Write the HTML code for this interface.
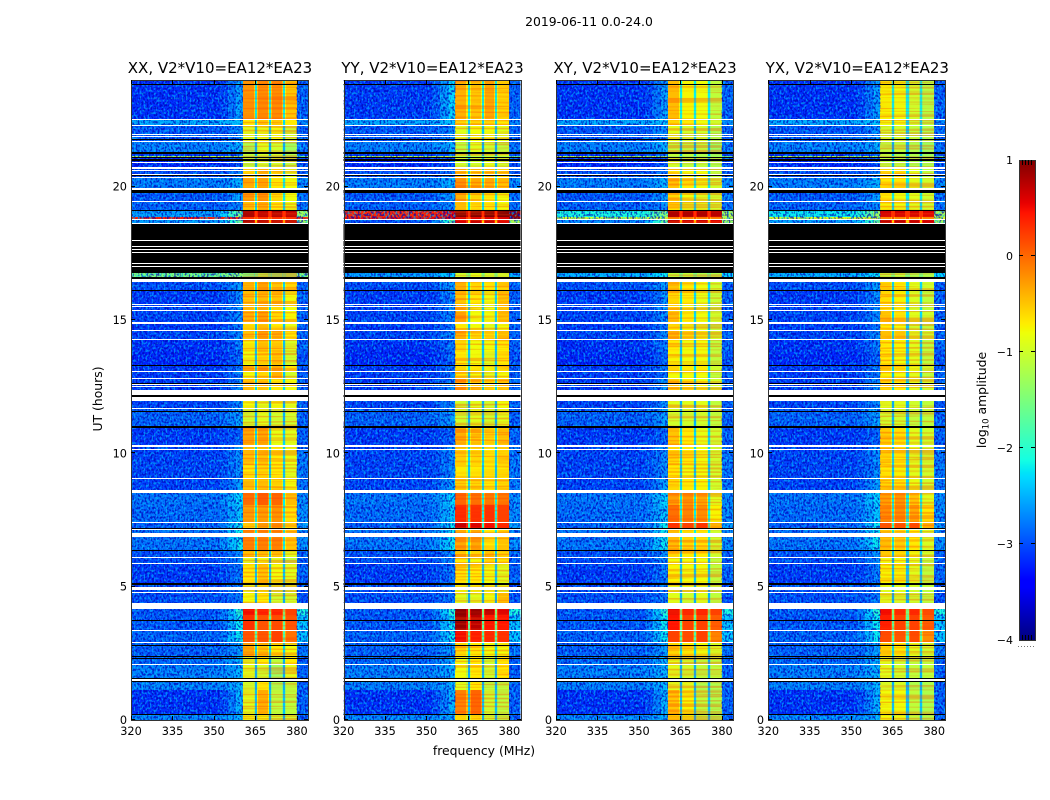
<!DOCTYPE html>
<html lang="en">
<head>
<meta charset="utf-8">
<title>2019-06-11 0.0-24.0</title>
<style>
html,body{margin:0;padding:0;background:#fff;width:1050px;height:800px;overflow:hidden}
svg{display:block}
text{font-family:"DejaVu Sans","Liberation Sans",sans-serif;fill:#000}
</style>
</head>
<body>
<svg id="figure" xmlns="http://www.w3.org/2000/svg" width="1050" height="800" viewBox="0 0 1050 800" shape-rendering="crispEdges">
  <defs>
    <filter id="noiseDark" x="0" y="0" width="100%" height="100%" color-interpolation-filters="sRGB">
      <feTurbulence type="fractalNoise" baseFrequency="0.55 0.42" numOctaves="1" seed="3"/>
      <feColorMatrix type="matrix" values="0 0 0 0 0  0 0 0 0 0  0 0 0 0 .72  7 0 0 0 -3.3"/>
    </filter>
    <filter id="noiseLight" x="0" y="0" width="100%" height="100%" color-interpolation-filters="sRGB">
      <feTurbulence type="fractalNoise" baseFrequency="0.5 0.4" numOctaves="1" seed="11"/>
      <feColorMatrix type="matrix" values="0 0 0 0 0  0 0 0 0 .85  0 0 0 0 1  0 7 0 0 -3.6"/>
    </filter>
    <filter id="noiseStripe" x="0" y="0" width="100%" height="100%" color-interpolation-filters="sRGB">
      <feTurbulence type="fractalNoise" baseFrequency="0.008 0.5" numOctaves="1" seed="7"/>
      <feColorMatrix type="matrix" values="0 0 0 0 1  0 0 0 0 .25  0 0 0 0 0  6 0 0 0 -2.7"/>
    </filter>
  </defs>
  <text x="589" y="26" font-size="12.4" text-anchor="middle">2019-06-11 0.0-24.0</text>
  <g id="panels"></g>
  <text x="484" y="755" font-size="12.4" text-anchor="middle">frequency (MHz)</text>
  <text transform="translate(102 399) rotate(-90)" font-size="12.4" text-anchor="middle">UT (hours)</text>
  <g id="colorbar"></g>
  <text transform="translate(986 400) rotate(-90)" font-size="12.4" text-anchor="middle">log<tspan font-size="8.5" dy="2.5">10</tspan><tspan dy="-2.5"> amplitude</tspan></text>
</svg>
<script>
// ---- categories ----
const panelTitles = ['XX, V2*V10=EA12*EA23','YY, V2*V10=EA12*EA23','XY, V2*V10=EA12*EA23','YX, V2*V10=EA12*EA23'];
const xTickLabels = [320,335,350,365,380];
const yTickLabels = [0,5,10,15,20];
const cbarTickLabels = [1,0,-1,-2,-3,-4];

// time-row boundaries (UT hours, top to bottom)
const timeEdges = [24,22.54,22.31,21.68,21.3,21.15,21.09,20.74,20.36,19.88,19.45,19.13,18.86,18.79,18.6,16.76,16.61,16.13,15.6,15.3,14.93,14.59,14.25,13.8,13.28,13.05,12.79,12.38,11.96,11.66,11.03,10.31,9.56,9.08,8.63,8.06,7.43,7.13,6.38,6.11,5.85,5.14,4.76,4.39,3.94,3.38,2.89,2.4,2.06,1.58,1.13,0.23,0];

// ---- shared log10 amplitude per time row ----
const bgLevel = [-3.15,-2.55,-2.95,-2.75,-3.1,-1,-3.2,-3.0,-2.75,-2.95,-2.9,-2.2,-.5,-2.6,-3,-2.3,-3.0,-3.1,-3.05,-3.05,-3.1,-3.05,-3.15,-3.2,-3.1,-3.1,-3.1,-3.1,-3.05,-2.9,-3.1,-3.05,-3.05,-3.05,-2.8,-2.85,-2.9,-2.8,-3,-3,-3.1,-3,-3,-2.95,-2.95,-2.9,-2.9,-2.85,-2.75,-2.75,-3.15,-2.7];
const shoulderLevel = [-2.6,-2.4,-2.7,-2.5,-2.9,-1,-3,-2.8,-2.5,-2.6,-2.7,-1.3,-1,-1.6,-3,-2,-2.6,-2.7,-2.7,-2.7,-2.8,-2.7,-2.8,-2.9,-2.8,-2.8,-2.7,-2.8,-2.7,-2.6,-2.9,-2.7,-2.7,-2.6,-2.3,-2.4,-2.2,-2.2,-2.7,-2.7,-2.8,-2.8,-2.8,-2,-2.2,-2.2,-2.6,-2.5,-2.5,-2.5,-2.5,-2.5];
const gapLevel = [-2.2,-2.3,-2.4,-2.5,-2.5,-1.5,-2.5,-2.3,-2.2,-2.2,-2.3,.3,.1,-.6,-2.5,-1.5,-2.3,-2.3,-2.3,-2.3,-2.4,-2.3,-2.4,-2.4,-2.3,-2.4,-2.3,-2.4,-2.5,-2.5,-2.3,-2.3,-2.4,-2.3,-2.2,-2.2,-2,-2.2,-2.4,-2.5,-2.4,-2.5,-2.5,-1.5,-1.7,-1.8,-2.3,-2.5,-2.5,-2.5,-2.4,-2.5];
const rightLevel = [-2.9,-2.7,-2.9,-2.8,-3,-1.5,-3,-2.9,-2.7,-2.8,-2.8,-1.3,-1,-1.3,-3,-2,-2.9,-2.9,-2.9,-2.9,-2.9,-2.9,-2.9,-3,-2.9,-2.9,-2.9,-2.9,-2.9,-2.9,-2.9,-2.8,-2.8,-2.8,-2.7,-2.7,-2.6,-2.7,-2.9,-2.9,-2.9,-3,-3,-2.1,-2.4,-2.4,-2.8,-2.9,-2.9,-2.9,-2.9,-2.9];

// ---- per-panel band levels [band1, band2, band3, band4] per time row ----
const xxBands = [[-.25,-.2,-.2,-.5],[-.7,-.5,-.5,-.7],[-.9,-.85,-.8,-1],[-1.2,-.9,-1,-1.3],[-1.1,-1,-1,-1.2],[-1.3,-1.3,-1.3,-1.3],[-1.1,-1,-1,-1.1],[-.6,-.4,-.6,-.9],[-.4,-.35,-.7,-.8],[-.3,-.25,-.6,-.8],[-.5,-.4,-.7,-.85],[.85,.75,.8,.75],[.3,.3,.3,.3],[.85,.8,.8,.8],[-1,-1,-1,-1],[-1.5,-1.2,-1.4,-1.3],[-.4,-.3,-.5,-.6],[-.5,-.45,-.5,-.8],[-.5,-.4,-.6,-.8],[-.4,-.3,-.6,-.75],[-.65,-.5,-.7,-.85],[-.5,-.3,-.4,-.7],[-.75,-.5,-.55,-.95],[-.8,-.6,-.5,-1],[-.4,-.3,-.4,-.7],[-.8,-.6,-.4,-1],[-.5,-.5,-.7,-.8],[-.8,-.8,-.8,-.9],[-.8,-.9,-.8,-.9],[-1,-.9,-1,-1],[-.35,-.35,-.85,-.9],[-.5,-.5,-.7,-.85],[-.7,-.6,-.7,-.9],[-.5,-.5,-.6,-.8],[-.05,.05,0,-.45],[-.3,-.3,-.25,-.65],[-.6,-.4,-.3,-.7],[-.15,-.15,-.15,-.5],[-.5,-.5,-.5,-.9],[-.9,-.8,-.9,-1.1],[-.7,-.5,-.8,-.9],[-.9,-.8,-1,-1],[-.8,-.7,-1,-1],[.5,.4,.4,.2],[.3,.1,.15,.1],[.1,.1,.2,-.05],[-.35,-.5,-.7,-.8],[-.9,-.7,-1.1,-.7],[-.9,-1,-1.3,-.9],[-1,-.7,-1.2,-1.1],[-.9,-.4,-1.1,-1.1],[-.8,-.8,-1,-1]];
const yyBands = [[-.4,-.5,-.35,-.6],[-.6,-.6,-.6,-.7],[-.9,-.8,-.8,-.9],[-1.1,-.9,-1,-1.1],[-1,-1,-1,-1],[-1.2,-1.2,-1.2,-1.2],[-1,-1,-.9,-1],[-.4,-.5,-.5,-.6],[-.25,-.4,-.4,-.5],[-.4,-.6,-.7,-.8],[-.45,-.6,-.7,-.8],[1,1,1,1],[.6,.6,.6,.6],[.6,.7,.7,.6],[-1,-1,-1,-1],[-1,-.9,-1,-1],[-.4,-.6,-.7,-.6],[-.5,-.7,-.8,-.5],[-.5,-.8,-.85,-.5],[-.3,-.8,-.8,-.5],[-.7,-.8,-.9,-.8],[-.4,-.6,-.6,-.5],[-.6,-.8,-.8,-.7],[-.7,-.8,-.9,-.7],[-.6,-.7,-.8,-.7],[-.7,-.8,-.9,-.8],[-.3,-.5,-.6,-.5],[-.6,-.7,-.7,-.7],[-1,-.9,-1,-.8],[-1,-.9,-1,-.9],[-.4,-.5,-.6,-.5],[-.55,-.6,-.7,-.6],[-.7,-.7,-.7,-.7],[-.55,-.6,-.7,-.6],[0,-.05,-.1,-.1],[.35,.3,.3,.2],[.7,.6,.5,.35],[-.35,-.35,-.7,-.55],[-.5,-.6,-.5,-.6],[-.7,-.8,-.6,-.65],[-.65,-.7,-.8,-.9],[-.8,-.8,-.8,-.9],[-.9,-.9,-.8,-.5],[.95,.9,.75,.6],[.9,.75,.45,.45],[.5,.4,.35,.3],[-.6,-.7,-.8,-.8],[-.8,-.7,-1,-.7],[-.8,-.7,-1,-.7],[-.9,-.7,-1.1,-1.1],[-.15,0,-1,-1.1],[-.6,-.6,-1,-1.1]];
const xyBands = [[-.45,-.75,-.8,-1.1],[-.6,-.7,-.8,-1],[-.9,-1,-1,-1.2],[-1.1,-1.1,-1.1,-1.3],[-1.1,-1.1,-1.2,-1.3],[-1.3,-1.3,-1.3,-1.3],[-1,-1.1,-1.1,-1.2],[-.7,-.8,-.8,-1.1],[-.5,-.7,-.8,-1],[-.6,-.8,-.9,-1],[-.7,-.85,-.9,-1],[.8,.8,.8,.75],[-.2,-.2,-.2,-.2],[.75,.7,.7,.6],[-1,-1,-1,-1],[-1.1,-1.1,-1.2,-1.2],[-.5,-.7,-.8,-1],[-.6,-.7,-.85,-1.05],[-.6,-.8,-.9,-1.1],[-.45,-.7,-.8,-1],[-.7,-.8,-.9,-1.1],[-.5,-.7,-.8,-1],[-.7,-.8,-.8,-1.1],[-.75,-.8,-.8,-1.1],[-.6,-.7,-.7,-1],[-.8,-.8,-.8,-1.1],[-.55,-.7,-.8,-1],[-.8,-.8,-.8,-1],[-.9,-.9,-.9,-1.1],[-1,-1,-1,-1.1],[-.5,-.7,-.85,-1],[-.6,-.7,-.8,-1],[-.7,-.8,-.8,-1],[-.6,-.7,-.75,-1],[-.3,-.25,-.35,-.9],[-.05,-.15,-.2,-.75],[.3,.2,.3,-.6],[-.45,-.6,-.65,-1],[-.6,-.7,-.7,-1],[-.8,-.8,-.8,-1.1],[-.75,-.8,-.8,-1.1],[-.9,-.9,-.9,-1.1],[-.9,-1,-.9,-1.1],[.55,.4,.4,.2],[.45,.2,.2,.05],[.2,.15,.2,-.15],[-.6,-.7,-.8,-.95],[-.9,-1,-1.1,-1.1],[-.9,-1,-1.1,-1.1],[-.9,-.9,-1.2,-1.2],[-.5,-.75,-1.1,-1.2],[-.7,-.8,-1.1,-1.2]];
const yxBands = [[-.75,-.8,-1,-1.15],[-.8,-.8,-1,-1.1],[-1,-1,-1.1,-1.2],[-1.1,-1.1,-1.2,-1.3],[-1.1,-1.2,-1.2,-1.3],[-1.3,-1.3,-1.3,-1.3],[-1.1,-1.1,-1.2,-1.2],[-.6,-.6,-.9,-1.1],[-.7,-.7,-.9,-1],[-.7,-.8,-.9,-1],[-.75,-.8,-.9,-1],[.65,.65,.65,.6],[-.2,-.2,-.2,-.2],[.75,.75,.7,.65],[-1,-1,-1,-1],[-1.1,-1.1,-1.2,-1.2],[-.6,-.7,-.9,-1],[-.65,-.75,-.95,-1.1],[-.65,-.75,-1,-1.1],[-.5,-.65,-.9,-1],[-.7,-.8,-1,-1.1],[-.55,-.6,-.9,-1],[-.7,-.75,-.9,-1.1],[-.7,-.8,-.9,-1.1],[-.55,-.65,-.85,-1],[-.75,-.8,-.9,-1.1],[-.6,-.7,-.9,-1],[-.8,-.8,-.9,-1],[-.9,-.9,-1,-1.1],[-1,-1,-1.1,-1.1],[-.55,-.65,-.9,-1],[-.6,-.7,-.9,-1],[-.7,-.75,-.9,-1],[-.6,-.65,-.85,-1],[-.3,-.25,-.5,-.9],[-.2,-.2,-.35,-.7],[.1,.1,.15,-.4],[-.5,-.55,-.7,-.95],[-.6,-.65,-.8,-1],[-.8,-.8,-.9,-1.1],[-.75,-.75,-.9,-1.1],[-.9,-.9,-1,-1.1],[-.9,-.95,-1,-1.1],[.5,.35,.35,.15],[.4,.2,.2,.05],[.15,.1,.15,-.2],[-.6,-.7,-.9,-1],[-.9,-1,-1.1,-1.1],[-.9,-1,-1.1,-1.1],[-.95,-.95,-1.2,-1.2],[-.8,-.8,-1.1,-1.2],[-.8,-.85,-1.1,-1.2]];

// per-panel row overrides: [row index, background, shoulder, right edge]
const xxOverrides = [[11,-2.6,-1.4,-1.3],[12,.4,.3,.3],[15,-1.5,-1.4,-1.4]];
const yyOverrides = [[0,-3.1,-2.3,-2.9],[11,.35,.55,.9],[12,.5,.6,.9],[13,-3,-1.5,-1.2],[15,-2.6,-2.3,-2.5]];
const xyOverrides = [[11,-2.1,-1.4,-1.2],[12,-1,-1,-1],[13,-2.7,-1.6,-1.3],[15,-2.5,-2.2,-2.3]];
const yxOverrides = [[11,-2.2,-1.3,-1.2],[12,-.9,-.9,-.9],[13,-2.6,-1.6,-1.3],[15,-2.5,-2.2,-2.3]];

// flagged time ranges (UT hours, start/end pairs)
const blackFlags = [[23.85,23.81],[21.79,21.75],[21.3,21.23],[21.11,21.08],[21.04,20.96],[20.44,20.4],[19.86,19.76],[19.14,19.09],[18.6,16.76],[16.61,16.54],[16.13,16.09],[13.31,13.28],[12.64,12.6],[12.19,12.11],[11.59,11.55],[11.03,10.95],[7.2,7.16],[6.38,6.34],[5.12,5.06],[3.75,3.71],[2.81,2.78],[2.4,2.36],[2.33,2.29],[1.58,1.52],[1.48,1.43],[.23,.19]];
const whiteFlags = [[22.54,22.5],[22.31,22.28],[21.98,21.94],[21.9,21.86],[21.71,21.68],[20.93,20.89],[20.74,20.66],[20.61,20.57],[20.49,20.46],[20.38,20.34],[19.95,19.86],[19.46,19.43],[18.8,18.77],[18.64,18.6],[18,17.96],[17.78,17.74],[17.66,17.63],[17.55,17.51],[17.14,17.1],[17.03,16.99],[16.54,16.43],[15.6,15.56],[15.53,15.49],[15.38,15.34],[14.94,14.85],[14.63,14.59],[14.29,14.25],[13.09,13.05],[12.83,12.79],[12.6,12.56],[12.53,12.49],[12.38,12.19],[12.11,11.96],[11.7,11.66],[10.31,10.24],[10.16,10.13],[9.08,9.04],[8.63,8.59],[8.57,8.53],[7.43,7.39],[7.16,7.13],[7.03,6.86],[6.11,6.08],[5.89,5.85],[4.99,4.89],[4.8,4.76],[4.39,4.16],[3.36,3.32],[2.91,2.87],[2.1,2.06],[1.52,1.48]];

// ---- layout and axis functions ----
const panelLefts = [131,343.5,556,768.3];
const panelWidth = 177, axisTop = 80, axisBottom = 720;
const freqMin = 320, freqMax = 384, hourMax = 24;
const panelBands = [xxBands,yyBands,xyBands,yxBands];
const panelOverrides = [xxOverrides,yyOverrides,xyOverrides,yxOverrides];
const panelKeys = ['xx','yy','xy','yx'];
const bandRanges = [[360.4,364.85],[365.6,369.95],[370.7,374.85],[375.6,380]];
const gapRanges = [[364.85,365.6],[369.95,370.7],[374.85,375.6]];
const flankWidth = .38, flankDrop = .32;

function xScale(p,f){return panelLefts[p]+(f-freqMin)/(freqMax-freqMin)*panelWidth;}
function yScale(h){return axisBottom-h/hourMax*(axisBottom-axisTop);}
function lerp(t,pts){
  for(let i=1;i<pts.length;i++){
    if(t<=pts[i][0]){const a=pts[i-1],b=pts[i];return a[1]+(b[1]-a[1])*(t-a[0])/(b[0]-a[0]);}
  }
  return pts[pts.length-1][1];
}
function jet(v){
  const t=Math.max(0,Math.min(1,(v+4)/5));
  const r=lerp(t,[[0,0],[.35,0],[.66,1],[.89,1],[1,.5]]);
  const g=lerp(t,[[0,0],[.125,0],[.375,1],[.64,1],[.91,0],[1,0]]);
  const b=lerp(t,[[0,.5],[.11,1],[.34,1],[.65,0],[1,0]]);
  return 'rgb('+Math.round(r*255)+','+Math.round(g*255)+','+Math.round(b*255)+')';
}
const NS='http://www.w3.org/2000/svg';
function mk(tag,parent,attrs){
  const e=document.createElementNS(NS,tag);
  for(const k in attrs){e.setAttribute(k,attrs[k]);}
  parent.appendChild(e);
  return e;
}
function cell(g,p,f0,f1,h0,h1,val){
  const x0=Math.round(xScale(p,f0)),x1=Math.round(xScale(p,f1));
  const y0=Math.round(yScale(h0)),y1=Math.round(yScale(h1));
  const r=mk('rect',g,{x:x0,y:y0,width:Math.max(1,x1-x0),height:Math.max(1,y1-y0),fill:jet(val)});
  
  
}

const panelsRoot=document.getElementById('panels');
panelTitles.forEach(function(title,p){
  const g=mk('g',panelsRoot,{});
  
  
  const clipId='clip'+p;
  const defs=mk('clipPath',g,{id:clipId});
  mk('rect',defs,{x:panelLefts[p],y:axisTop,width:panelWidth,height:axisBottom-axisTop});
  const body=mk('g',g,{'clip-path':'url(#'+clipId+')'});
  
  

  const bands=panelBands[p];
  const over={};
  panelOverrides[p].forEach(function(o){over[o[0]]=o;});
  for(let i=0;i<timeEdges.length-1;i++){
    const h0=timeEdges[i],h1=timeEdges[i+1];
    const bg=over[i]?over[i][1]:bgLevel[i];
    const sh=over[i]?over[i][2]:shoulderLevel[i];
    const rt=over[i]?over[i][3]:rightLevel[i];
    cell(body,p,320,352,h0,h1,bg);
    cell(body,p,352,355,h0,h1,bg*.8+sh*.2);
    cell(body,p,355,358,h0,h1,bg*.4+sh*.6);
    cell(body,p,358,360.4,h0,h1,sh);
    bands[i].forEach(function(val,b){
      cell(body,p,bandRanges[b][0],bandRanges[b][1],h0,h1,val);
      if(b>0){cell(body,p,bandRanges[b][0],bandRanges[b][0]+flankWidth,h0,h1,val-flankDrop);}
      if(b<3){cell(body,p,bandRanges[b][1]-flankWidth,bandRanges[b][1],h0,h1,val-flankDrop);}
    });
    gapRanges.forEach(function(r){
      cell(body,p,r[0],r[1],h0,h1,gapLevel[i]);
    });
    cell(body,p,380,384,h0,h1,rt);
  }

  // speckle texture over the off-band channels and stripe texture over the bands
  const nx=xScale(p,320), nw=xScale(p,360.4)-nx, rx=xScale(p,380), rw=xScale(p,384)-rx;
  [[nx,nw],[rx,rw]].forEach(function(s){
    const d=mk('rect',body,{x:s[0],y:axisTop,width:s[1],height:axisBottom-axisTop,filter:'url(#noiseDark)',opacity:.7});
    
    
    const l=mk('rect',body,{x:s[0],y:axisTop,width:s[1],height:axisBottom-axisTop,filter:'url(#noiseLight)',opacity:.5});
    
    
  });
  const st=mk('rect',body,{x:xScale(p,360.4),y:axisTop,width:xScale(p,380)-xScale(p,360.4),height:axisBottom-axisTop,filter:'url(#noiseStripe)',opacity:.35});
  
  

  blackFlags.forEach(function(f){
    const y0=Math.round(yScale(f[0])),y1=Math.round(yScale(f[1]));
    const r=mk('rect',body,{x:panelLefts[p],y:y0,width:panelWidth,height:Math.max(1,y1-y0),fill:'#000'});
    
    
  });
  whiteFlags.forEach(function(f){
    const y0=Math.round(yScale(f[0])),y1=Math.round(yScale(f[1]));
    const r=mk('rect',body,{x:panelLefts[p],y:y0,width:panelWidth,height:Math.max(1,y1-y0),fill:'#fff'});
    
    
  });

  const L=Math.round(panelLefts[p]), R=Math.round(panelLefts[p]+panelWidth);
  const frame=mk('rect',g,{x:L+.5,y:axisTop+.5,width:R-L,height:axisBottom-axisTop,fill:'none',stroke:'#333','stroke-width':1});
  
  

  xTickLabels.forEach(function(v){
    const x=Math.round(xScale(p,v))+.5;
    const t1=mk('line',g,{x1:x,x2:x,y1:axisBottom,y2:axisBottom-4,stroke:'#000'});
    
    
    const t2=mk('line',g,{x1:x,x2:x,y1:axisTop,y2:axisTop+4,stroke:'#000'});
    
    
    const lab=mk('text',g,{x:xScale(p,v),y:735,'font-size':11.3,'text-anchor':'middle'});
    
    
    lab.textContent=v;
  });
  yTickLabels.forEach(function(v){
    const y=Math.round(yScale(v))-.5;
    const t1=mk('line',g,{x1:L,x2:L+4,y1:y,y2:y,stroke:'#000'});
    
    
    const t2=mk('line',g,{x1:R,x2:R-4,y1:y,y2:y,stroke:'#000'});
    
    
    const lab=mk('text',g,{x:L-4,y:yScale(v)+4,'font-size':11.3,'text-anchor':'end'});
    
    
    lab.textContent=v;
  });
  const ttl=mk('text',g,{x:panelLefts[p]+panelWidth/2+.5,y:73,'font-size':15,'text-anchor':'middle'});
  
  
  ttl.textContent=title;
});

// ---- colorbar ----
const cbarLeft=1019, cbarRight=1035, cbarTop=160, cbarBottom=640;
function cbarY(v){return cbarBottom-(v+4)/5*(cbarBottom-cbarTop);}
const cbar=document.getElementById('colorbar');
for(let y=cbarTop;y<cbarBottom;y++){
  const v=-4+(cbarBottom-y-.5)/(cbarBottom-cbarTop)*5;
  const r=mk('rect',cbar,{x:cbarLeft,y:y,width:cbarRight-cbarLeft,height:1,fill:jet(v)});
  
  
}
const cbarFrame=mk('rect',cbar,{x:cbarLeft+.5,y:cbarTop+.5,width:cbarRight-cbarLeft,height:cbarBottom-cbarTop,fill:'none',stroke:'#333'});


cbarTickLabels.forEach(function(v){
  const y=Math.round(cbarY(v))-.5;
  if(v!==1&&v!==-4){
    const a=mk('line',cbar,{x1:cbarLeft,x2:cbarLeft+4,y1:y,y2:y,stroke:'#000'});
    
    
    const b=mk('line',cbar,{x1:cbarRight,x2:cbarRight-4,y1:y,y2:y,stroke:'#000'});
    
    
  }
  const lab=mk('text',cbar,{x:1013,y:cbarY(v)+4,'font-size':11,'text-anchor':'end'});
  
  
  lab.textContent=String(v).replace('-','\u2212');
});
[1022,1025,1028,1031].forEach(function(x){
  const a=mk('line',cbar,{x1:x+.5,x2:x+.5,y1:cbarTop,y2:cbarTop+5,stroke:'#000'});
  
  
  const b=mk('line',cbar,{x1:x+.5,x2:x+.5,y1:cbarBottom,y2:cbarBottom-5,stroke:'#000'});
  
  
});
[1018,1021,1024,1027,1030,1033].forEach(function(x){
  const d=mk('rect',cbar,{x:x,y:646,width:1,height:1,fill:'#777'});
  
  
});
</script>
</body>
</html>
